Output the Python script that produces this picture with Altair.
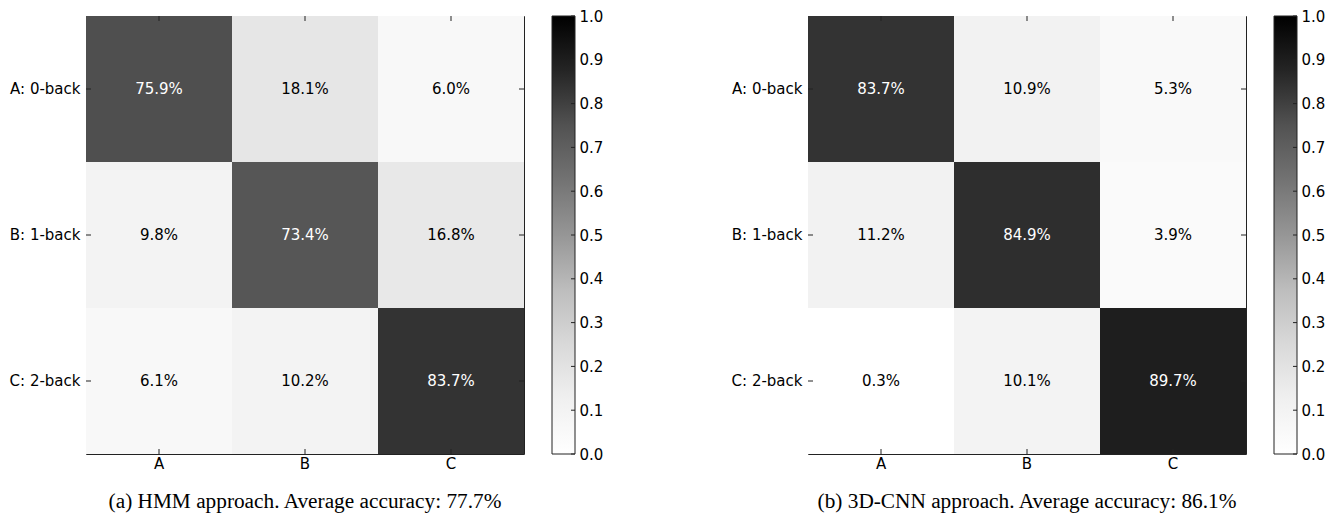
import altair as alt
import pandas as pd

# ---- data ----
true_labels = ["A: 0-back", "B: 1-back", "C: 2-back"]
pred_labels = ["A", "B", "C"]
hmm_values = [
    [75.9, 18.1, 6.0],
    [9.8, 73.4, 16.8],
    [6.1, 10.2, 83.7],
]
cnn_values = [
    [83.7, 10.9, 5.3],
    [11.2, 84.9, 3.9],
    [0.3, 10.1, 89.7],
]
cbar_ticks = [0.0, 0.1, 0.2, 0.3, 0.4, 0.5, 0.6, 0.7, 0.8, 0.9, 1.0]
greys = ["#ffffff", "#f0f0f0", "#d9d9d9", "#bdbdbd", "#969696",
         "#737373", "#525252", "#252525", "#000000"]
greys_stops = [0.0, 0.125, 0.25, 0.375, 0.5, 0.625, 0.75, 0.875, 1.0]
captions = [
    "(a) HMM approach. Average accuracy: 77.7%",
    "(b) 3D-CNN approach. Average accuracy: 86.1%",
]

FONT = "DejaVu Sans"
SERIF = "Liberation Serif"
EDGE = "#222222"
SIZE = 438
CB_X0 = 466
CB_X1 = 489
TICK_LEN = 5


def colorbar():
    ysc = alt.Scale(domain=[0, 1], nice=False, zero=False)
    yax = alt.Axis(orient="right", values=cbar_ticks, format=".1f", title=None,
                   domain=False, ticks=False, labelPadding=4, grid=False,
                   labelOverlap=False, offset=CB_X1 - SIZE)
    grad = alt.Gradient(
        gradient="linear",
        stops=[alt.GradientStop(color=c, offset=o) for c, o in zip(greys, greys_stops)],
        x1=0, x2=0, y1=1, y2=0,
    )
    bar = alt.Chart(pd.DataFrame({"lo": [0.0], "hi": [1.0]})).mark_rect(
        fill=grad, stroke=EDGE, strokeWidth=1).encode(
        y=alt.Y("lo:Q", scale=ysc, axis=yax), y2="hi:Q",
        x=alt.value(CB_X0), x2=alt.value(CB_X1))
    ticks = alt.Chart(pd.DataFrame({"t": cbar_ticks})).mark_rule(
        color=EDGE, strokeWidth=1).encode(
        y=alt.Y("t:Q", scale=ysc, axis=yax),
        x=alt.value(CB_X1), x2=alt.value(CB_X1 - 4))
    return alt.layer(bar, ticks)


def panel(values, caption):
    rows = []
    for i, t in enumerate(true_labels):
        for j, p in enumerate(pred_labels):
            rows.append({"true": t, "pred": p, "v": values[i][j] / 100.0})
    df = pd.DataFrame(rows)

    xs = alt.X("pred:N", sort=pred_labels,
               scale=alt.Scale(paddingInner=0, paddingOuter=0),
               axis=alt.Axis(title=None, labelAngle=0, domain=False, ticks=False,
                             labelPadding=2, orient="bottom", grid=False))
    ys = alt.Y("true:N", sort=true_labels,
               scale=alt.Scale(paddingInner=0, paddingOuter=0),
               axis=alt.Axis(title=None, domain=False, ticks=False,
                             labelPadding=6, grid=False, orient="left"))

    base = alt.Chart(df)
    rect = base.mark_rect().encode(
        x=xs, y=ys,
        color=alt.Color("v:Q", legend=None,
                        scale=alt.Scale(domain=greys_stops, range=greys,
                                        interpolate="rgb")),
    )
    text = base.mark_text(font=FONT, fontSize=15, baseline="middle",
                          align="center").encode(
        x=xs, y=ys,
        text=alt.Text("v:Q", format=".1%"),
        color=alt.condition("datum.v > 0.5", alt.value("white"),
                            alt.value("black")),
    )
    xdf = pd.DataFrame({"pred": pred_labels})
    ydf = pd.DataFrame({"true": true_labels})
    t_top = alt.Chart(xdf).mark_rule(color=EDGE, strokeWidth=1).encode(
        x=xs, y=alt.value(0), y2=alt.value(TICK_LEN))
    t_bot = alt.Chart(xdf).mark_rule(color=EDGE, strokeWidth=1).encode(
        x=xs, y=alt.value(SIZE), y2=alt.value(SIZE - TICK_LEN))
    t_left = alt.Chart(ydf).mark_rule(color=EDGE, strokeWidth=1).encode(
        y=ys, x=alt.value(0), x2=alt.value(TICK_LEN))
    t_right = alt.Chart(ydf).mark_rule(color=EDGE, strokeWidth=1).encode(
        y=ys, x=alt.value(SIZE), x2=alt.value(SIZE - TICK_LEN))

    heat = alt.layer(rect, text, t_top, t_bot, t_left, t_right)
    return alt.layer(heat, colorbar()).resolve_scale(y="independent").properties(
        width=SIZE, height=SIZE,
        title=alt.TitleParams(text=caption, orient="bottom", anchor="middle",
                              frame="group", font=SERIF, fontSize=21.3,
                              fontWeight="normal", color="black", offset=20),
    )


chart = alt.hconcat(panel(hmm_values, captions[0]), panel(cnn_values, captions[1]),
                    spacing=126).properties(
    padding={"left": 0, "top": 0, "right": 0, "bottom": 0}
).configure_view(
    stroke=EDGE, strokeWidth=1
).configure_axis(
    labelFont=FONT, labelFontSize=15, labelColor="black"
)

chart.save("out.html", embed_options={"renderer": "svg", "actions": False})
